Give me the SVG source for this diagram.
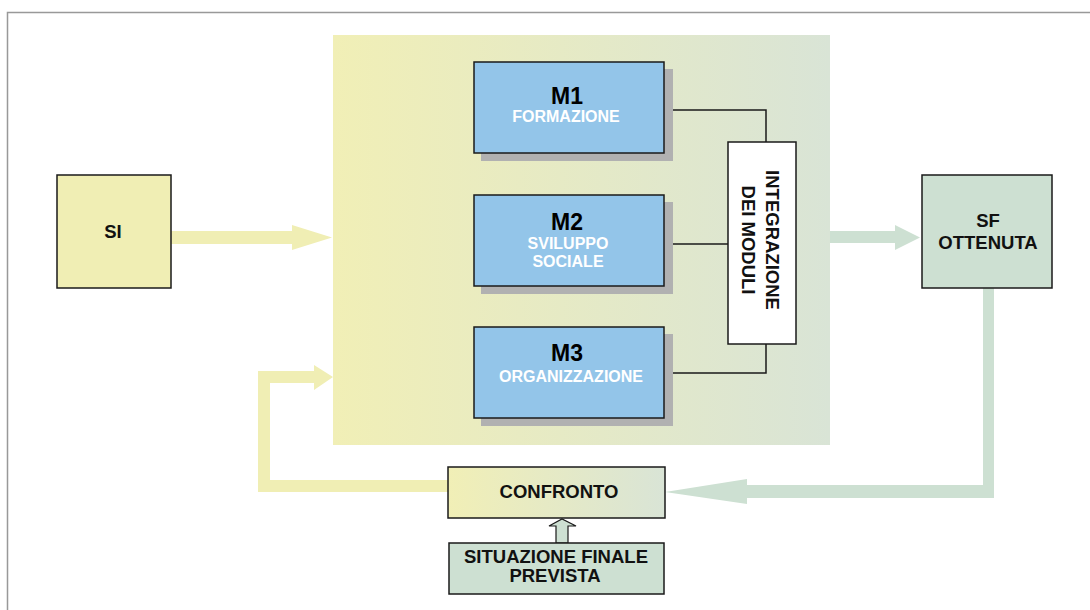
<svg xmlns="http://www.w3.org/2000/svg" width="1090" height="610" viewBox="0 0 1090 610">
<defs>
<linearGradient id="gPanel" x1="0" y1="0" x2="1" y2="0">
<stop offset="0" stop-color="#f1efb6"/>
<stop offset="1" stop-color="#d9e4d6"/>
</linearGradient>
<linearGradient id="gConf" x1="0" y1="0" x2="1" y2="0">
<stop offset="0" stop-color="#f1efb6"/>
<stop offset="1" stop-color="#d9e4d6"/>
</linearGradient>
</defs>
<style>
.box{stroke:#1a1a1a;stroke-width:1.5}
.mod{fill:#93c5e9}
.shadow{fill:#b1b1b1}
.t{font-family:"Liberation Sans",Arial,sans-serif;font-weight:bold;text-anchor:middle}
.big{font-size:23px;fill:#000}
.sub{font-size:16px;fill:#ffffff}
.lbl{font-size:18.5px;fill:#111}
.wire{fill:none;stroke:#1a1a1a;stroke-width:1.5}
</style>
<rect width="1090" height="610" fill="#ffffff"/>
<path d="M7.5 610 V12.5 H1090" fill="none" stroke="#999" stroke-width="1.5"/>
<rect id="panel" x="333" y="35" width="497" height="410" fill="url(#gPanel)"/>

<g id="connectors">
<polygon points="171,231 292,231 292,225 332,237.5 292,250 292,244 171,244" fill="#f0eeb4"/>
<polygon points="830,231 895,231 895,225 920,237.5 895,250 895,243 830,243" fill="#cde0d2"/>
<polygon points="983,288 994,288 994,498 747,498 747,504 665,492 747,479 747,485 983,485" fill="#cde0d2"/>
<polygon points="448,480 448,492 258,492 258,371 314,371 314,365 333,377 314,390 314,383 270,383 270,480" fill="#f0eeb4"/>
<polygon points="556,543 556,526 549,526 562,519 576,526 568,526 568,543" fill="#cde0d2" stroke="#1a1a1a" stroke-width="1.2"/>
<path class="wire" d="M664 110 H766 V142"/>
<path class="wire" d="M664 244 H728"/>
<path class="wire" d="M664 373 H766 V344"/>
</g>

<g id="si">
<rect class="box" x="57" y="175" width="114" height="113" fill="#f0eeb4"/>
<text class="t lbl" x="113" y="238">SI</text>
</g>

<g id="m1">
<rect class="shadow" x="481" y="69" width="192" height="92"/>
<rect class="box mod" x="474" y="62" width="190" height="91"/>
<text class="t big" x="567" y="104">M1</text>
<text class="t sub" x="566" y="122">FORMAZIONE</text>
</g>

<g id="m2">
<rect class="shadow" x="481" y="202" width="192" height="92"/>
<rect class="box mod" x="474" y="195" width="190" height="91"/>
<text class="t big" x="567" y="230">M2</text>
<text class="t sub" x="568" y="249">SVILUPPO</text>
<text class="t sub" x="568" y="267">SOCIALE</text>
</g>

<g id="m3">
<rect class="shadow" x="481" y="334" width="192" height="92"/>
<rect class="box mod" x="474" y="327" width="190" height="91"/>
<text class="t big" x="567" y="361">M3</text>
<text class="t sub" x="571" y="382">ORGANIZZAZIONE</text>
</g>

<g id="integrazione">
<rect class="box" x="728" y="142" width="68" height="202" fill="#ffffff"/>
<g transform="translate(762 240) rotate(90)">
<text class="t lbl" x="0" y="-4">INTEGRAZIONE</text>
<text class="t lbl" x="0" y="20">DEI MODULI</text>
</g>
</g>

<g id="sf">
<rect class="box" x="922" y="175" width="130" height="113" fill="#cde0d2"/>
<text class="t lbl" x="988" y="227">SF</text>
<text class="t lbl" x="988" y="249">OTTENUTA</text>
</g>

<g id="confronto">
<rect class="box" x="448" y="467" width="217" height="51" fill="url(#gConf)"/>
<text class="t lbl" x="559" y="498">CONFRONTO</text>
</g>

<g id="situazione">
<rect class="box" x="449" y="543" width="215" height="51" fill="#cde0d2"/>
<text class="t lbl" x="556" y="563">SITUAZIONE FINALE</text>
<text class="t lbl" x="555" y="582">PREVISTA</text>
</g>
</svg>
